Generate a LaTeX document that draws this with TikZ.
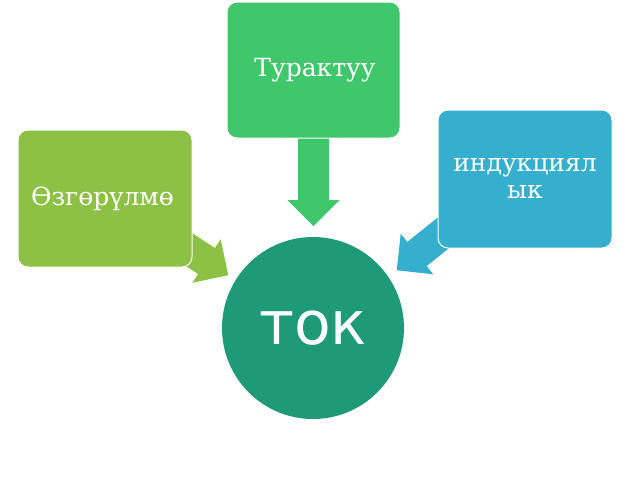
\documentclass[tikz,border=0pt]{standalone}
\usepackage{fontspec}
\setmainfont{DejaVu Serif}
\newfontfamily\sansf{DejaVu Sans}
\definecolor{cgreen}{HTML}{40C66B}
\definecolor{clime}{HTML}{8CC145}
\definecolor{cblue}{HTML}{36AECE}
\definecolor{cteal}{HTML}{1E9A78}
\tikzset{
  box/.style={rectangle, rounded corners=10pt, draw=white, line width=1pt,
    text=white, font=\fontsize{25}{27}\selectfont, align=center, inner sep=0pt},
  fatarrow/.pic={\fill (-64,-15.5) -- (0,-15.5) -- (0,-26) -- (26,0) -- (0,26) -- (0,15.5) -- (-64,15.5) -- cycle;}
}
\begin{document}
\begin{tikzpicture}[x=1pt,y=-1pt]
\useasboundingbox (0,0) rectangle (640,480);
% arrows (behind boxes)
\coordinate (aT) at (313.5,200);
\coordinate (aL) at (206.5,261);
\coordinate (aR) at (417,254);
\pic[fill=cgreen, rotate=-90] at (aT) {fatarrow};
\pic[fill=clime, rotate=-33] at (aL) {fatarrow};
\pic[fill=cblue, rotate=218.7] at (aR) {fatarrow};
% boxes
\node[box, fill=cgreen, minimum width=173pt, minimum height=136pt] (top) at (313.5,70) {\hspace{3pt}Турактуу};
\node[box, fill=clime, minimum width=174pt, minimum height=137pt] (left) at (105,198.5) {Өзгөрүлмө\hspace{5pt}};
\node[box, fill=cblue, minimum width=174pt, minimum height=138pt] (right) at (525,179) {индукциял\\ык};
% circle
\node[circle, fill=cteal, minimum size=182pt, inner sep=0pt, text=white,
  font=\sansf\fontsize{60}{60}\selectfont] (tok) at (313,328) {ток};
\end{tikzpicture}
\end{document}
